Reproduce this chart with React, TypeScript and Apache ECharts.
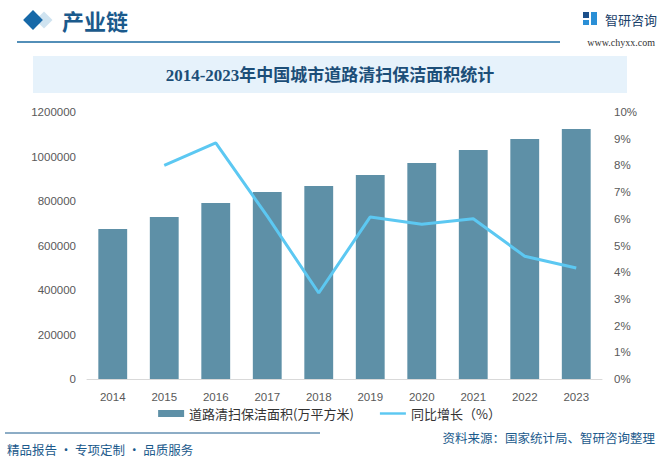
import React, { useEffect, useRef } from "react";
import * as echarts from "echarts";

const years = ["2014", "2015", "2016", "2017", "2018", "2019", "2020", "2021", "2022", "2023"];
const areaValues = [674000, 728000, 791000, 840000, 867000, 917000, 971000, 1029000, 1079000, 1124000];
const growthValues: (number | null)[] = [null, 8.0, 8.84, 6.1, 3.22, 6.07, 5.8, 6.0, 4.6, 4.16];
const leftTicks = { min: 0, max: 1200000, interval: 200000 };
const rightTicks = { min: 0, max: 10, interval: 1 };
const barName = "道路清扫保洁面积(万平方米)";
const lineName = "同比增长（%）";

export default function App() {
  const ref = useRef<HTMLDivElement>(null);
  useEffect(() => {
    const chart = echarts.init(ref.current!, null, { renderer: "svg" });
    chart.setOption({
      animation: false,
      backgroundColor: "#ffffff",
      grid: { left: 87, right: 57, top: 112, bottom: 82 },
      legend: {
        bottom: 36,
        left: "center",
        itemGap: 26,
        itemWidth: 26,
        itemHeight: 7,
        textStyle: { fontSize: 13, color: "#333", fontFamily: "Noto Sans CJK SC" },
        data: [
          { name: barName, icon: "rect" },
          { name: lineName, icon: "path://M0,0H32V3H0Z", itemStyle: { color: "#5cc8f2" } },
        ],
      },
      xAxis: {
        type: "category",
        data: years,
        axisLine: { lineStyle: { color: "#d9d9d9" } },
        axisTick: { show: false },
        axisLabel: { color: "#595959", fontSize: 11.5, margin: 12, fontFamily: "Liberation Sans" },
      },
      yAxis: [
        {
          type: "value",
          ...leftTicks,
          splitLine: { show: false },
          axisLine: { show: false },
          axisTick: { show: false },
          axisLabel: { color: "#595959", fontSize: 11.5, margin: 11, fontFamily: "Liberation Sans", formatter: (v: number) => String(v) },
        },
        {
          type: "value",
          ...rightTicks,
          splitLine: { show: false },
          axisLine: { show: false },
          axisTick: { show: false },
          axisLabel: { color: "#595959", fontSize: 11.5, margin: 12, formatter: "{value}%", fontFamily: "Liberation Sans" },
        },
      ],
      series: [
        {
          name: barName,
          type: "bar",
          data: areaValues,
          barWidth: "56%",
          itemStyle: { color: "#5e90a7" },
        },
        {
          name: lineName,
          type: "line",
          yAxisIndex: 1,
          data: growthValues,
          symbol: "none",
          lineStyle: { color: "#5cc8f2", width: 3 },
          itemStyle: { color: "#5cc8f2" },
        },
      ],
      graphic: [
        { type: "rect", shape: { x: -6, y: -6, width: 12, height: 12 }, x: 44, y: 20, rotation: Math.PI / 4, style: { fill: "#cfe3f0" } },
        { type: "rect", shape: { x: -7, y: -7, width: 14, height: 14 }, x: 33, y: 20, rotation: Math.PI / 4, style: { fill: "#1769a8" } },
        { type: "text", x: 62, y: 20, style: { text: "产业链", fill: "#1b5a8c", font: "bold 22px 'Noto Sans CJK SC'", verticalAlign: "middle" } },
        { type: "line", shape: { x1: 17, y1: 42, x2: 560, y2: 42 }, style: { stroke: "#1a6aa0", lineWidth: 1.5 } },
        { type: "rect", shape: { x: 583, y: 12, width: 6, height: 6 }, style: { fill: "#1b4f8a" } },
        { type: "rect", shape: { x: 591, y: 12, width: 6, height: 13 }, style: { fill: "#2a8fd6" } },
        { type: "rect", shape: { x: 583, y: 20, width: 6, height: 5 }, style: { fill: "#2a8fd6" } },
        { type: "text", x: 605, y: 19, style: { text: "智研咨询", fill: "#1a3f6a", font: "13px 'Noto Sans CJK SC'", verticalAlign: "middle" } },
        { type: "text", x: 655, y: 42, style: { text: "www.chyxx.com", fill: "#333", font: "10px 'Liberation Serif'", align: "right", verticalAlign: "middle" } },
        { type: "rect", shape: { x: 33, y: 56, width: 594, height: 37 }, style: { fill: "#e6f2fb" } },
        { type: "text", x: 330, y: 75, style: { text: "2014-2023年中国城市道路清扫保洁面积统计", fill: "#1c4e78", font: "bold 17px 'Liberation Serif', 'Noto Sans CJK SC'", align: "center", verticalAlign: "middle" } },
        { type: "line", shape: { x1: 5, y1: 433, x2: 320, y2: 433 }, style: { stroke: "#1a5a8c", lineWidth: 1 } },
        { type: "text", x: 7, y: 449, style: { text: "精品报告 · 专项定制 · 品质服务", fill: "#1b5a8c", font: "12.5px 'Noto Sans CJK SC'", verticalAlign: "middle" } },
        { type: "text", x: 655, y: 437, style: { text: "资料来源：国家统计局、智研咨询整理", fill: "#1b5a8c", font: "12.5px 'Noto Sans CJK SC'", align: "right", verticalAlign: "middle" } },
      ],
    });
    return () => chart.dispose();
  }, []);
  return <div ref={ref} style={{ position: "fixed", left: 0, top: 0, width: 659, height: 461 }} />;
}
